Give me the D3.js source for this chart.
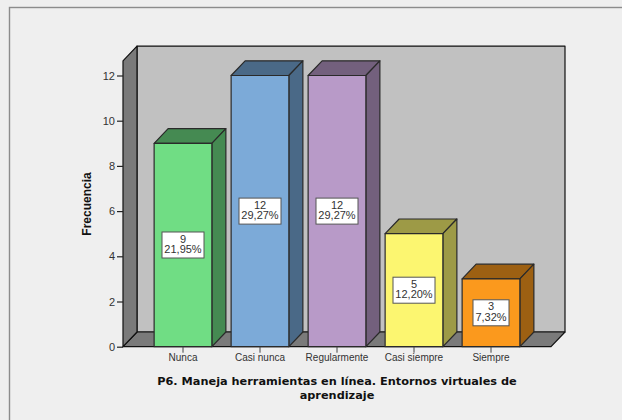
<!DOCTYPE html>
<html>
<head>
<meta charset="utf-8">
<script src="https://cdn.jsdelivr.net/npm/d3@7"></script>
<style>
html, body { margin: 0; padding: 0; background: #efefef; }
svg { display: block; }
text { font-family: "Liberation Sans", Arial, sans-serif; }
</style>
</head>
<body>
<svg id="chart" width="622" height="420"></svg>
<script>
const categories = ["Nunca", "Casi nunca", "Regularmente", "Casi siempre", "Siempre"];
const counts = [9, 12, 12, 5, 3];
const percents = ["21,95%", "29,27%", "29,27%", "12,20%", "7,32%"];
const yTicks = [0, 2, 4, 6, 8, 10, 12];
const frontColors = ["#70dd84", "#7caad8", "#b89ac8", "#fcf670", "#fb991d"];
const topColors = ["#458a52", "#4a6987", "#73607d", "#9d9a46", "#9d6012"];
const xTitle = ["P6. Maneja herramientas en línea. Entornos virtuales de", "aprendizaje"];

const W = 622, H = 420;
const depth = { x: 14, y: 14.7 };
const svg = d3.select("#chart");

svg.append("rect")
	.attr("x", 9.5).attr("y", 7.5).attr("width", W).attr("height", H)
	.attr("fill", "#efefef").attr("stroke", "#8c8c8c").attr("stroke-width", 1.4);

const x = d3.scaleBand().domain(categories).range([144.5, 529.5]).paddingInner(0.25).paddingOuter(0.125);
const y = d3.scaleLinear().domain([0, 12]).range([346.7, 75.5]);

const wallLeft = 123, wallRight = 551;
const wallTop = y(12.65);
const poly = pts => pts.map(p => p.join(",")).join(" ");

// back wall, floor, side wall
const walls = svg.append("g").attr("stroke", "#111").attr("stroke-width", 1.2).attr("stroke-linejoin", "round");
walls.append("polygon")
	.attr("points", poly([[wallLeft + depth.x, wallTop - depth.y], [wallRight + depth.x, wallTop - depth.y], [wallRight + depth.x, y(0) - depth.y], [wallLeft + depth.x, y(0) - depth.y]]))
	.attr("fill", "#c1c1c1");
walls.append("polygon")
	.attr("points", poly([[wallLeft, y(0)], [wallLeft + depth.x, y(0) - depth.y], [wallRight + depth.x, y(0) - depth.y], [wallRight, y(0)]]))
	.attr("fill", "#7a7a7a");
walls.append("polygon")
	.attr("points", poly([[wallLeft, wallTop], [wallLeft + depth.x, wallTop - depth.y], [wallLeft + depth.x, y(0) - depth.y], [wallLeft, y(0)]]))
	.attr("fill", "#7a7a7a");

// bars
const bars = svg.append("g").selectAll("g").data(categories).join("g")
	.attr("stroke", "#2a2a2a").attr("stroke-width", 1.2).attr("stroke-linejoin", "round");
bars.append("polygon")
	.attr("fill", (d, i) => topColors[i])
	.attr("points", (d, i) => {
		const x0 = x(d), x1 = x0 + x.bandwidth(), yt = y(counts[i]);
		return poly([[x0, yt], [x0 + depth.x, yt - depth.y], [x1 + depth.x, yt - depth.y], [x1, yt]]);
	});
bars.append("polygon")
	.attr("fill", (d, i) => topColors[i])
	.attr("points", (d, i) => {
		const x1 = x(d) + x.bandwidth(), yt = y(counts[i]);
		return poly([[x1, yt], [x1 + depth.x, yt - depth.y], [x1 + depth.x, y(0) - depth.y], [x1, y(0)]]);
	});
bars.append("rect")
	.attr("fill", (d, i) => frontColors[i])
	.attr("x", d => x(d)).attr("width", x.bandwidth())
	.attr("y", (d, i) => y(counts[i])).attr("height", (d, i) => y(0) - y(counts[i]));

// value labels
const labels = svg.append("g").selectAll("g").data(categories).join("g")
	.attr("transform", (d, i) => `translate(${x(d) + x.bandwidth() / 2}, ${y(counts[i] / 2)})`);
labels.append("rect")
	.attr("x", (d, i) => i === 4 ? -18 : -21).attr("y", -13)
	.attr("width", (d, i) => i === 4 ? 36 : 42).attr("height", 26)
	.attr("fill", "#fff").attr("stroke", "#555").attr("stroke-width", 1);
labels.append("text").attr("text-anchor", "middle").attr("y", -2.5)
	.attr("font-size", 11).attr("fill", "#333").text((d, i) => counts[i]);
labels.append("text").attr("text-anchor", "middle").attr("y", 8)
	.attr("font-size", 11).attr("fill", "#333").text((d, i) => percents[i]);

// axes
const yAxis = svg.append("g").attr("transform", `translate(${wallLeft}, 0)`)
	.call(d3.axisLeft(y).tickValues(yTicks).tickSize(6).tickPadding(2).tickFormat(d3.format("d")));
yAxis.select(".domain").remove();
yAxis.selectAll("line").attr("stroke", "#222").attr("stroke-width", 1.2);
yAxis.selectAll("text").attr("font-size", 11).attr("fill", "#333").attr("font-family", '"Liberation Sans", Arial, sans-serif');

const xAxis = svg.append("g").attr("transform", `translate(0, ${y(0)})`)
	.call(d3.axisBottom(x).tickSize(6).tickPadding(1));
xAxis.select(".domain").remove();
xAxis.selectAll("line").attr("stroke", "#444").attr("stroke-width", 1);
xAxis.selectAll("text").attr("font-size", 10).attr("fill", "#333").attr("font-family", '"Liberation Sans", Arial, sans-serif');

// axis titles
svg.append("text")
	.attr("transform", "translate(91, 204) rotate(-90)")
	.attr("text-anchor", "middle")
	.attr("font-size", 12).attr("font-weight", "bold").attr("fill", "#111")
	.text("Frecuencia");
svg.append("text").selectAll("tspan").data(xTitle).join("tspan")
	.attr("x", 337).attr("y", (d, i) => 385 + i * 13.5)
	.attr("text-anchor", "middle")
	.attr("font-family", '"DejaVu Sans", sans-serif')
	.attr("font-size", 11.3).attr("font-weight", "bold").attr("fill", "#111")
	.text(d => d);
</script>
</body>
</html>
